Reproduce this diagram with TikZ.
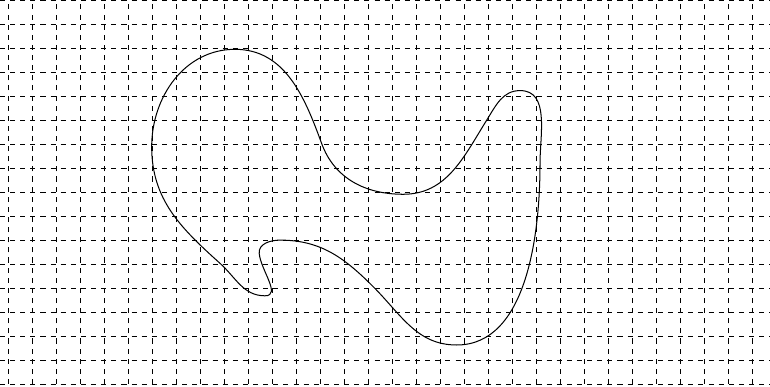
\documentclass[tikz,border=0pt]{standalone}
\usepackage{tikz}
\begin{document}
\begin{tikzpicture}[
      x=0.5cm, y=0.5cm,
      gridline/.style={dashed, thin},
      blob/.style={semithick}
    ]
    \useasboundingbox (0,0) rectangle (32.083,16.125);
    % dashed background grid
    \begin{scope}[shift={(0.333,0.125)}]
      \draw[gridline, step=0.5cm] (-0.333,0) grid (31.75,16);
    \end{scope}
    % key points of the outline
    \coordinate (lobetop)    at (9.79,14.07);
    \coordinate (neck)       at (13.40,10.15);
    \coordinate (valley)     at (16.80,8.03);
    \coordinate (rise)       at (20.28,11.12);
    \coordinate (peak)       at (21.67,12.35);
    \coordinate (rightside)  at (22.50,9.30);
    \coordinate (bottom)     at (19.03,1.75);
    \coordinate (slope)      at (15.55,4.18);
    \coordinate (hooktop)    at (11.67,6.12);
    \coordinate (hookleft)   at (10.80,5.57);
    \coordinate (hooktip)    at (11.04,3.80);
    \coordinate (lowerleft)  at (9.17,5.15);
    \coordinate (leftmost)   at (6.32,10.01);
    % closed freehand outline
    \draw[blob] (lobetop)
      to[out=0, in=110] (neck)
      to[out=-70, in=180] (valley)
      to[out=0, in=-122] (rise)
      to[out=58, in=180] (peak)
      to[out=0, in=90] (rightside)
      to[out=-90, in=0, looseness=0.9] (bottom)
      to[out=180, in=-45] (slope)
      to[out=135, in=0] (hooktop)
      to[out=180, in=95] (hookleft)
      to[out=-85, in=0] (hooktip)
      to[out=180, in=-42] (lowerleft)
      to[out=138, in=-90] (leftmost)
      to[out=90, in=180] (lobetop);
\end{tikzpicture}
\end{document}
